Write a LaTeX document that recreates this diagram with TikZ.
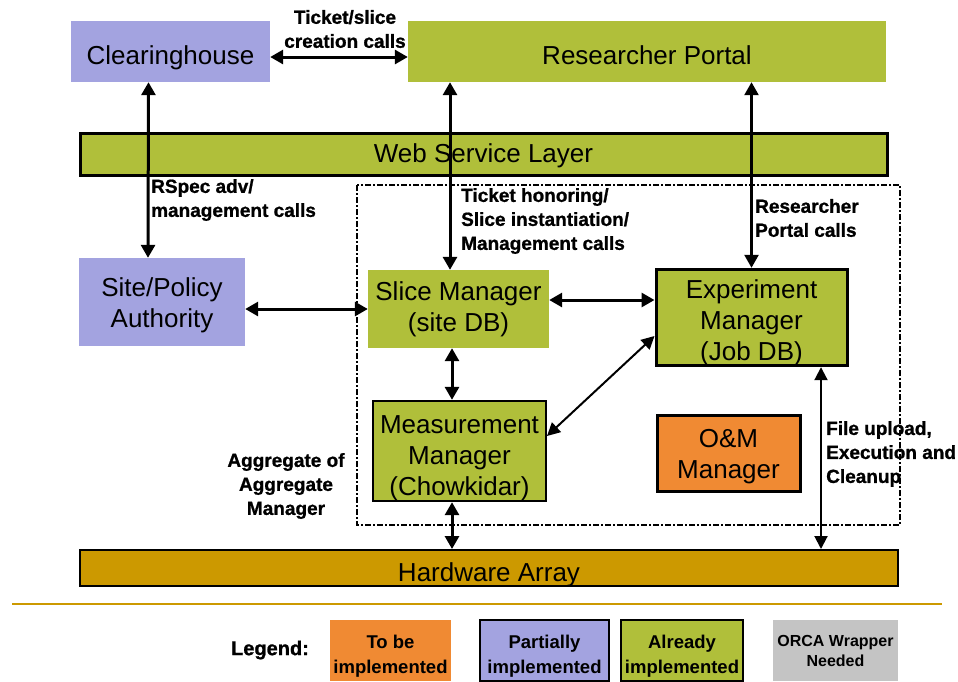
\documentclass[tikz,border=0pt]{standalone}
\usepackage{fontspec}
\setmainfont{Liberation Sans}
\newfontfamily\heavyfont[FakeBold=1]{Liberation Sans Bold}
\usetikzlibrary{arrows.meta}
\definecolor{lav}{HTML}{A3A3E0}
\definecolor{olive}{HTML}{B0BF3A}
\definecolor{orng}{HTML}{F08A33}
\definecolor{gold}{HTML}{CC9900}
\definecolor{grayb}{HTML}{C4C4C4}
\newcommand{\dnstrut}[1]{\rule{0pt}{#1}}
\tikzset{
  box/.style={rectangle, inner sep=0pt, align=center, font=\fontsize{26}{31}\selectfont},
  one/.style={text height=31pt, text depth=5pt},
  lbl/.style={inner sep=0pt, align=left, font=\heavyfont\fontsize{19}{24}\selectfont},
  legbox/.style={rectangle, inner sep=0pt, align=center, minimum width=#1, minimum height=61pt, font=\bfseries\fontsize{18.5}{25}\selectfont},
  dbl/.style={{Triangle[length=13pt,width=14pt]}-{Triangle[length=13pt,width=14pt]}, line width=3pt},
  dblthin/.style={{Triangle[length=13pt,width=13pt]}-{Triangle[length=13pt,width=13pt]}, line width=2pt},
}
\begin{document}
\begin{tikzpicture}[x=1pt,y=-1pt]
\useasboundingbox (0,0) rectangle (958,681);
% boxes
\node[box, one, fill=lav, minimum width=199pt, minimum height=61pt] (clearing) at (170.5,51.5) {Clearinghouse};
\node[box, one, fill=olive, minimum width=478pt, minimum height=61pt] (portal) at (647,51.5) {Researcher Portal};
\node[box, text height=21pt, text depth=5pt, fill=olive, draw, line width=3pt, minimum width=807pt, minimum height=42pt] (wsl) at (483.5,154) {Web Service Layer};
\node[box, fill=lav, minimum width=166pt, minimum height=88pt] (site) at (162,302) {\dnstrut{25pt}Site/Policy\\Authority};
\draw[line width=2.5pt, dash pattern=on 6pt off 2pt on 2pt off 2pt] (357,185) rectangle (900,525);
\node[box, fill=olive, minimum width=181pt, minimum height=78pt] (slice) at (458.5,309) {Slice Manager\\(site DB)};
\node[box, fill=olive, draw, line width=3pt, minimum width=191pt, minimum height=95pt] (exp) at (751.5,317.5) {\dnstrut{29pt}Experiment\\Manager\\(Job DB)};
\node[box, fill=olive, draw, line width=2pt, minimum width=173pt, minimum height=96pt] (meas) at (459.5,451) {\dnstrut{33pt}Measurement\\Manager\\(Chowkidar)};
\node[box, fill=orng, draw, line width=3pt, minimum width=143pt, minimum height=76pt] (om) at (728.5,453) {\dnstrut{25pt}O\&M\\Manager};
\node[box, one, fill=gold, draw, line width=2pt, minimum width=818pt, minimum height=34pt] (hw) at (489,568) {Hardware Array};
% labels
\node[lbl, align=center] (l1) at (345,29) {Ticket/slice\\creation calls};
\node[lbl, anchor=west] (l2) at (151,200) {RSpec adv/\\management calls};
\node[lbl, anchor=west] (l3) at (461,221) {Ticket honoring/\\Slice instantiation/\\Management calls};
\node[lbl, anchor=west] (l4) at (755,218) {Researcher\\Portal calls};
\node[lbl, anchor=west] (l5) at (826,454) {File upload,\\Execution and\\Cleanup};
\node[lbl, align=center] (l6) at (286,486) {Aggregate of\\Aggregate\\Manager};
% helper coordinates
\coordinate (xa) at (450,0);
\coordinate (xb) at (452,0);
\coordinate (xc) at (821,0);
\coordinate (yc) at (0,300);
\coordinate (yd) at (0,57);
% connectors
\draw[dbl] (clearing.east |- yd) -- (portal.west |- yd);
\draw[dbl] ([xshift=-22pt]clearing.south) -- ([xshift=-14pt]site.north);
\draw[dbl] (portal.south -| xa) -- (slice.north -| xa);
\draw[dbl, line width=2.5pt] (portal.south -| exp.north) -- (exp.north);
\draw[dbl] (site.east |- slice.west) -- (slice.west);
\draw[dbl] (slice.east |- yc) -- (exp.west |- yc);
\draw[dbl] (slice.south -| xb) -- (meas.north -| xb);
\draw[dblthin] ([yshift=15pt]meas.east) -- ([yshift=-18.5pt]exp.west);
\draw[dbl] (meas.south -| xb) -- (hw.north -| xb);
\draw[dblthin] (exp.south -| xc) -- (hw.north -| xc);
% separator
\draw[gold, line width=1.5pt] (12,604) -- (942,604);
% legend
\node[font=\heavyfont\fontsize{20}{22}\selectfont, inner sep=0pt] (leg) at (270,650) {Legend:};
\node[legbox=121pt, fill=orng] (lg1) at (390.5,650.5) {\dnstrut{24pt}To be\\implemented};
\node[legbox=129pt, fill=lav, draw, line width=1.5pt] (lg2) at (544.5,650.5) {\dnstrut{24pt}Partially\\implemented};
\node[legbox=122pt, fill=olive, draw, line width=1.5pt] (lg3) at (682,650.5) {\dnstrut{24pt}Already\\implemented};
\node[legbox=125pt, fill=grayb, font=\bfseries\fontsize{16}{20}\selectfont] (lg4) at (835.5,650.5) {ORCA Wrapper\\Needed};
\end{tikzpicture}
\end{document}
